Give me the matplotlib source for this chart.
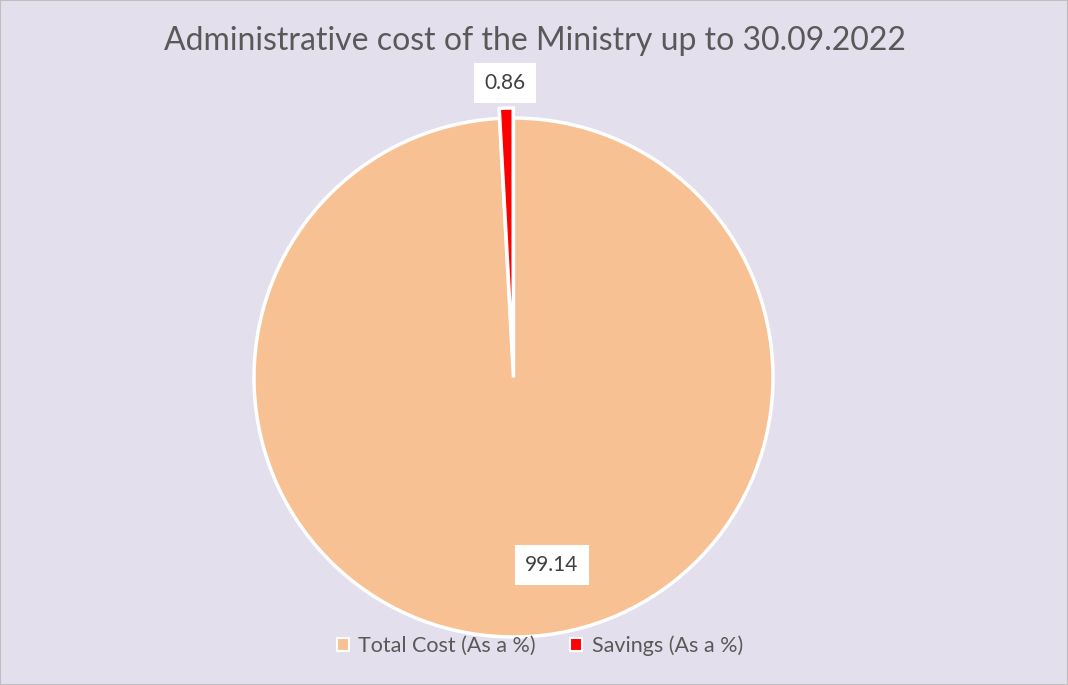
# camembert : coût administratif du ministère
import matplotlib.pyplot as plt
from matplotlib.patches import Rectangle

# données
categories = ['Total Cost (As a %)', 'Savings (As a %)']
valeurs = [99.14, 0.86]
couleurs = ['#F8C194', '#FF0000']
etiquettes = ['99.14', '0.86']

plt.rcParams['font.family'] = ['Lato', 'DejaVu Sans']

fig = plt.figure(figsize=(10.68, 6.85), dpi=100)
fig.patch.set_facecolor('#E4DFEC')
ax = fig.add_axes([0, 0, 1, 1])
ax.set_facecolor('#E4DFEC')

# axes en pixels (y vers le haut)
cx, cy, r = 513.5, 685 - 377.5, 259.5
wedges, _ = ax.pie(valeurs, colors=couleurs, startangle=90, counterclock=False,
                   center=(cx, cy), radius=r, explode=[0, 10],
                   wedgeprops=dict(edgecolor='white', linewidth=2.5))
ax.set_xlim(0, 1068)
ax.set_ylim(0, 685)
ax.set_aspect('auto')
ax.axis('off')

# étiquettes de données
boite = dict(boxstyle='square,pad=0.5', facecolor='white', edgecolor='none')
ax.text(505, 685 - 83, etiquettes[1], ha='center', va='center', fontsize=15,
        color='#404040', bbox=boite)
ax.text(552, 685 - 565, etiquettes[0], ha='center', va='center', fontsize=15,
        color='#404040', bbox=boite)

# titre
fig.text(0.5 + 0.5 / 1068, 1 - 41 / 685, 'Administrative cost of the Ministry up to 30.09.2022',
         ha='center', va='center', fontsize=23, color='#595959')

# légende
leg = fig.legend(wedges, categories, loc='center', bbox_to_anchor=(0.5 + 6 / 1068, 1 - 646 / 685),
                 ncol=2, frameon=False, fontsize=15.5, handlelength=0.55, handleheight=0.55,
                 handletextpad=0.45, columnspacing=1.6, labelcolor='#595959')
for h in leg.legend_handles:
    h.set_linewidth(1.5)

# bordure
fig.patches.append(Rectangle((0, 0), 1, 1, transform=fig.transFigure, fill=False,
                             edgecolor='#BFBFBF', linewidth=1.5))

plt.savefig('out.png', facecolor=fig.get_facecolor())
